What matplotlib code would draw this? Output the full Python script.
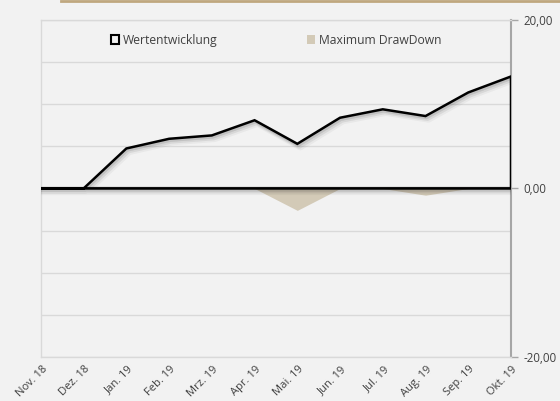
import numpy as np
import matplotlib
matplotlib.use("Agg")
import matplotlib.pyplot as plt
import matplotlib.transforms as mtransforms
from matplotlib.lines import Line2D
from matplotlib.patches import Patch

plt.rcParams['font.family'] = ['Open Sans', 'DejaVu Sans']

monate = ['Nov. 18', 'Dez. 18', 'Jan. 19', 'Feb. 19', 'Mrz. 19', 'Apr. 19',
          'Mai. 19', 'Jun. 19', 'Jul. 19', 'Aug. 19', 'Sep. 19', 'Okt. 19']
wertentwicklung = [0.0, 0.0, 4.75, 5.9, 6.3, 8.1, 5.3, 8.4, 9.4, 8.6, 11.4, 13.3]
drawdown = [0.0, 0.0, 0.0, 0.0, 0.0, 0.0, -2.6, 0.0, 0.0, -0.8, 0.0, 0.0]

bg = '#f2f2f2'
txt = '#404040'
fig = plt.figure(figsize=(5.6, 4.01), dpi=100, facecolor=bg)
ax = fig.add_axes([0.073, 0.110, 0.8395, 0.840], facecolor=bg)

x = np.arange(len(monate))

# Gitter
for v in np.arange(-20, 21, 5):
    ax.axhline(v, color='#d9d9d9', linewidth=1, zorder=0)

# Drawdown-Flaeche
ax.fill_between(x, drawdown, 0, color='#d3cab7', linewidth=0, zorder=2)

# Wertentwicklung als Flaeche ohne Fuellung, mit Schatten
px = np.concatenate([x, [x[-1], x[0]]])
py = np.concatenate([wertentwicklung, [0, 0]])
for i, a in enumerate([0.10, 0.07, 0.04]):
    off = mtransforms.offset_copy(ax.transData, fig=fig, x=1 + i, y=-1.5 - i, units='dots')
    ax.plot(px, py, color='black', alpha=a, linewidth=2.5 + i, transform=off, zorder=3)
ax.plot(px, py, color='black', linewidth=1.8, zorder=4, solid_joinstyle='miter')
ax.axhline(0, color='#505050', linewidth=1.6, zorder=3.5)

ax.set_xlim(0, len(monate) - 1)
ax.set_ylim(-20, 20)

ax.yaxis.tick_right()
ax.set_yticks([-20, 0, 20])
ax.set_yticklabels(['-20,00', '0,00', '20,00'])
ax.tick_params(axis='y', length=5, width=1, color='#a6a6a6', labelsize=8.3,
               labelcolor=txt, pad=4)

ax.set_xticks(x)
ax.set_xticklabels(monate, rotation=45, ha='right', rotation_mode='anchor',
                   fontsize=8, color=txt)
ax.tick_params(axis='x', length=0, pad=5)
shift = mtransforms.ScaledTranslation(0.01, 0, fig.dpi_scale_trans)
for lab in ax.get_xticklabels():
    lab.set_transform(lab.get_transform() + shift)

for s in ['top', 'left', 'bottom']:
    ax.spines[s].set_color('#d9d9d9')
    ax.spines[s].set_linewidth(1)
ax.spines['right'].set_color('#a6a6a6')
ax.spines['right'].set_linewidth(1.5)

handles = [Patch(facecolor='none', edgecolor='black', linewidth=1.5, label='Wertentwicklung'),
           Patch(facecolor='#d3cab7', edgecolor='none', label='Maximum DrawDown')]
ax.legend(handles=handles, loc='center', bbox_to_anchor=(0.5, 0.94), ncol=2,
          frameon=False, fontsize=8.7, columnspacing=7.4, handlelength=0.66,
          handleheight=0.7, handletextpad=0.33, labelcolor=txt)

# goldene Linie oben
fig.add_artist(Line2D([61 / 560, 1.0], [0.997, 0.997], color='#bfa77f', linewidth=2,
                      transform=fig.transFigure))

fig.savefig('out.png', dpi=100, facecolor=bg)
